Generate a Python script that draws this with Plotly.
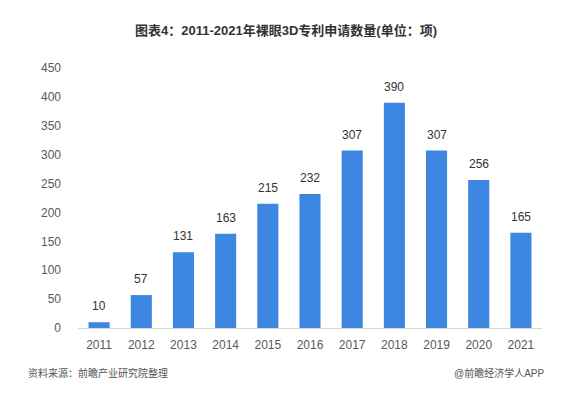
import plotly.graph_objects as go

years = ["2011", "2012", "2013", "2014", "2015", "2016", "2017", "2018", "2019", "2020", "2021"]
values = [10, 57, 131, 163, 215, 232, 307, 390, 307, 256, 165]
y_ticks = [0, 50, 100, 150, 200, 250, 300, 350, 400, 450]

title_text = "<b>图表4：2011-2021年裸眼3D专利申请数量(单位：项)</b>"
source_text = "资料来源：前瞻产业研究院整理"
credit_text = "@前瞻经济学人APP"

font_family = "Arial, 'Liberation Sans', 'Noto Sans CJK SC', sans-serif"

# page has an 8px body margin; work in figure coordinates
W, H = 564, 391
L, R, T, B = 70, 30, 60, 71
plot_h = H - T - B
plot_w = W - L - R

def py(pix):
    return (H - B - (pix - 8)) / plot_h

def px(pix):
    return ((pix - 8) - L) / plot_w

fig = go.Figure()
fig.add_trace(go.Bar(
    x=years, y=values,
    marker=dict(color="#3d86e1", line=dict(width=0)),
    hoverinfo="x+y",
))

annotations = [
    dict(x=i, y=v, xref="x", yref="y", text=str(v), showarrow=False,
         yanchor="middle", yshift=16,
         font=dict(size=12, color="#333333"))
    for i, v in enumerate(values)
]
annotations += [
    dict(text=title_text, x=px(286), y=py(30), xref="paper", yref="paper",
         xanchor="center", yanchor="middle",
         showarrow=False, font=dict(size=13, color="#333333")),
    dict(text=source_text, x=px(26), y=py(373), xref="paper", yref="paper",
         xanchor="left", yanchor="middle",
         showarrow=False, font=dict(size=10, color="#555555")),
    dict(text=credit_text, x=px(546), y=py(373), xref="paper", yref="paper",
         xanchor="right", yanchor="middle",
         showarrow=False, font=dict(size=10, color="#555555")),
]

fig.update_layout(
    width=W, height=H,
    margin=dict(l=L, r=R, t=T, b=B),
    paper_bgcolor="white", plot_bgcolor="white",
    bargap=0.5,
    showlegend=False,
    font=dict(family=font_family, color="#595959", size=12),
    xaxis=dict(
        type="category", range=[-0.5, len(years) - 0.5],
        showline=True, linecolor="#d9d9d9", linewidth=1,
        showgrid=False, ticks="", ticklen=0,
        tickfont=dict(size=12, color="#595959"),
        ticklabelstandoff=6,
    ),
    yaxis=dict(
        range=[0, 450], tickvals=y_ticks,
        showgrid=False, zeroline=False, showline=False,
        ticks="", tickfont=dict(size=12, color="#595959"),
        ticklabelstandoff=16,
    ),
    annotations=annotations,
)

fig.write_html("out.html")
